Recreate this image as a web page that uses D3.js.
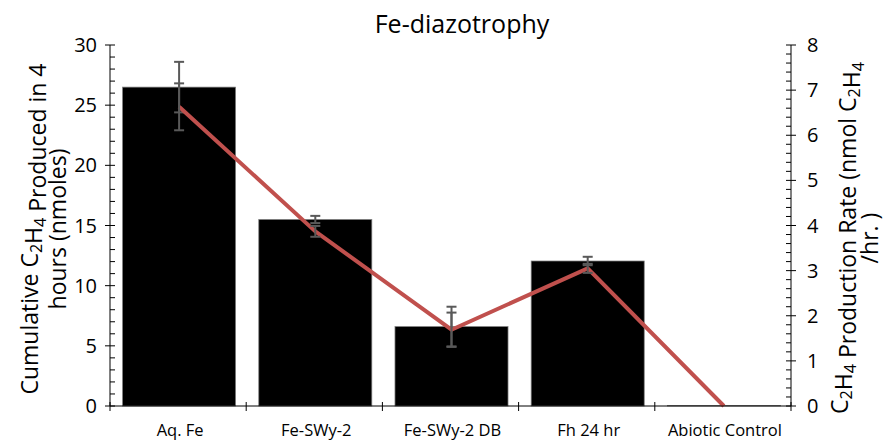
<!DOCTYPE html>
<html>
<head>
<meta charset="utf-8">
<script src="https://cdn.jsdelivr.net/npm/d3@7"></script>
<style>
  body { margin: 0; background: #fff; }
  text { font-family: "Open Sans", sans-serif; fill: #000; }
</style>
</head>
<body>
<div class="canvas"></div>
<script>
const categories = ['Aq. Fe', 'Fe-SWy-2', 'Fe-SWy-2 DB', 'Fh 24 hr', 'Abiotic Control'];
const cumulative = [26.5, 15.5, 6.6, 12.05, 0.05];
const cumulativeErr = [2.1, 0.3, 1.65, 0.35, 0];
const rate = [6.63, 3.87, 1.69, 3.05, 0];
const rateErr = [0.52, 0.12, 0.38, 0.1, 0];
const leftTicks = [0, 5, 10, 15, 20, 25, 30];
const rightTicks = [0, 1, 2, 3, 4, 5, 6, 7, 8];

const dims = { width: 890, height: 441 };
const plot = { left: 110, right: 791, top: 45, bottom: 406 };

const svg = d3.select('.canvas')
                .append('svg')
                .attr('width', dims.width)
                .attr('height', dims.height);

const x = d3.scaleBand()
            .domain(categories)
            .range([plot.left, plot.right])
            .paddingInner(0.17)
            .paddingOuter(0.085);

const xCenter = d3.scalePoint()
            .domain(categories)
            .range([plot.left, plot.right])
            .padding(0.5);

const yLeft = d3.scaleLinear().domain([0, 30]).range([plot.bottom, plot.top]);
const yRight = d3.scaleLinear().domain([0, 8]).range([plot.bottom, plot.top]);

// bars
svg.append('g')
    .selectAll('rect')
    .data(categories)
    .enter()
    .append('rect')
    .attr('x', d => xCenter(d) - x.bandwidth() / 2 + 1)
    .attr('width', x.bandwidth())
    .attr('y', (d, i) => yLeft(cumulative[i]))
    .attr('height', (d, i) => yLeft(0) - yLeft(cumulative[i]))
    .attr('fill', '#000')
    .attr('stroke', '#7f7f7f')
    .attr('stroke-width', 0.75);

// error bars helper
const errorBars = (vals, errs, scale) => {
    const g = svg.append('g')
                .attr('stroke', '#595959')
                .attr('stroke-width', 2)
                .attr('fill', 'none');
    categories.forEach((c, i) => {
        if (!errs[i]) return;
        const cx = xCenter(c) + 1;
        const top = scale(vals[i] + errs[i]);
        const bot = scale(vals[i] - errs[i]);
        g.append('line').attr('x1', cx).attr('x2', cx).attr('y1', top).attr('y2', bot);
        g.append('line').attr('x1', cx - 5).attr('x2', cx + 5).attr('y1', top).attr('y2', top);
        g.append('line').attr('x1', cx - 5).attr('x2', cx + 5).attr('y1', bot).attr('y2', bot);
    });
};

errorBars(cumulative, cumulativeErr, yLeft);

// rate line
const line = d3.line()
                .x((d, i) => xCenter(categories[i]) + 1)
                .y(d => yRight(d));

svg.append('path')
    .datum(rate)
    .attr('d', line)
    .attr('fill', 'none')
    .attr('stroke', '#C0504D')
    .attr('stroke-width', 4)
    .attr('stroke-linejoin', 'round');

errorBars(rate, rateErr, yRight);

// axes
const axisColor = '#000';

// x axis
const xAxis = svg.append('g');
xAxis.append('line')
    .attr('x1', plot.left).attr('x2', plot.right)
    .attr('y1', plot.bottom).attr('y2', plot.bottom)
    .attr('stroke', axisColor).attr('stroke-width', 1);
const step = (plot.right - plot.left) / categories.length;
d3.range(categories.length + 1).forEach(i => {
    xAxis.append('line')
        .attr('x1', plot.left + i * step).attr('x2', plot.left + i * step)
        .attr('y1', plot.bottom - 4).attr('y2', plot.bottom + 5)
        .attr('stroke', axisColor);
});
xAxis.selectAll('text')
    .data(categories)
    .enter()
    .append('text')
    .attr('x', d => xCenter(d) + 2)
    .attr('y', 436)
    .attr('text-anchor', 'middle')
    .attr('font-size', 16.5)
    .text(d => d);

// left axis
const leftAxis = svg.append('g');
leftAxis.append('line')
    .attr('x1', plot.left).attr('x2', plot.left)
    .attr('y1', plot.top).attr('y2', plot.bottom)
    .attr('stroke', axisColor);
d3.range(0, 31, 1).forEach(v => {
    const major = v % 5 === 0;
    leftAxis.append('line')
        .attr('x1', major ? plot.left - 5 : plot.left)
        .attr('x2', plot.left + 5)
        .attr('y1', yLeft(v)).attr('y2', yLeft(v))
        .attr('stroke', axisColor);
});
leftAxis.selectAll('text')
    .data(leftTicks)
    .enter()
    .append('text')
    .attr('x', 97)
    .attr('y', d => yLeft(d) + 7)
    .attr('text-anchor', 'end')
    .attr('font-size', 20)
    .text(d => d);

// right axis
const rightAxis = svg.append('g');
rightAxis.append('line')
    .attr('x1', plot.right).attr('x2', plot.right)
    .attr('y1', plot.top).attr('y2', plot.bottom)
    .attr('stroke', axisColor);
d3.range(0, 41, 1).forEach(k => {
    const v = k / 5;
    const major = k % 5 === 0;
    rightAxis.append('line')
        .attr('x1', plot.right - 5)
        .attr('x2', major ? plot.right + 5 : plot.right)
        .attr('y1', yRight(v)).attr('y2', yRight(v))
        .attr('stroke', axisColor);
});
rightAxis.selectAll('text')
    .data(rightTicks)
    .enter()
    .append('text')
    .attr('x', 807)
    .attr('y', d => yRight(d) + 7)
    .attr('text-anchor', 'start')
    .attr('font-size', 20)
    .text(d => d);

// title
svg.append('text')
    .attr('x', 462)
    .attr('y', 33)
    .attr('text-anchor', 'middle')
    .attr('font-size', 25)
    .text('Fe-diazotrophy');

// axis titles with subscripts
const addRich = (sel, parts) => {
    parts.forEach(p => {
        if (p.sub) {
            sel.append('tspan').attr('font-size', '0.7em').attr('dy', '0.25em').text(p.t);
            sel.append('tspan').attr('dy', '-0.175em').text('');
        } else {
            sel.append('tspan').text(p.t);
        }
    });
};

const leftTitle = svg.append('g')
                    .attr('transform', 'translate(0, 229) rotate(-90)');
const lt1 = leftTitle.append('text').attr('x', 0).attr('y', 38).attr('text-anchor', 'middle').attr('font-size', 23);
addRich(lt1, [{t: 'Cumulative C'}, {t: '2', sub: true}, {t: 'H'}, {t: '4', sub: true}, {t: ' Produced in 4'}]);
leftTitle.append('text').attr('x', 0).attr('y', 66).attr('text-anchor', 'middle').attr('font-size', 23).text('hours (nmoles)');

const rightTitle = svg.append('g')
                    .attr('transform', 'translate(0, 238) rotate(-90)');
const rt1 = rightTitle.append('text').attr('x', 0).attr('y', 848).attr('text-anchor', 'middle').attr('font-size', 23);
addRich(rt1, [{t: 'C'}, {t: '2', sub: true}, {t: 'H'}, {t: '4', sub: true}, {t: ' Production Rate (nmol C'}, {t: '2', sub: true}, {t: 'H'}, {t: '4', sub: true}]);
rightTitle.append('text').attr('x', 0).attr('y', 878).attr('text-anchor', 'middle').attr('font-size', 23).text('/hr. )');
</script>
</body>
</html>
